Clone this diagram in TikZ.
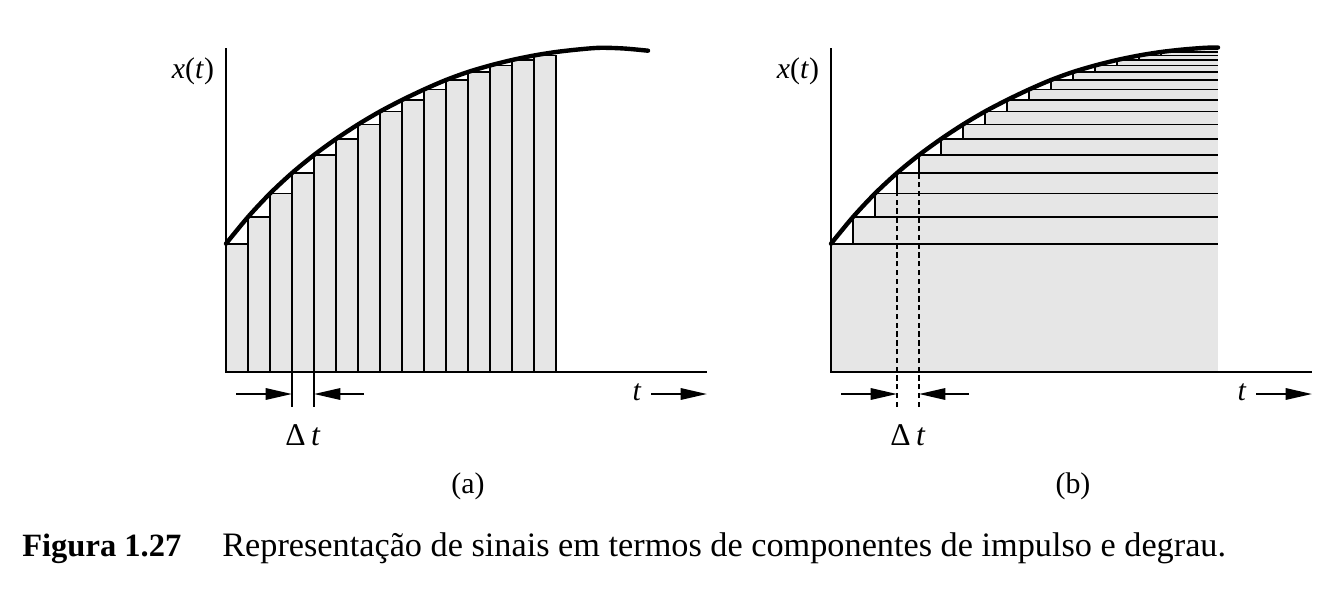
\documentclass[tikz,border=0pt]{standalone}
\usepackage{fontspec}
\setmainfont{Liberation Serif}
\usetikzlibrary{arrows.meta}
\definecolor{barfill}{RGB}{230,230,230}

% sample levels x(k*dt), in picture rows
\def\levels{243.7,217,193.5,173,155,139,124.5,111.5,100,89.5,80,72,65.5,60,55.5,52,49.5,47.8}

\begin{document}
\begin{tikzpicture}[x=0.02cm,y=-0.02cm,
  axis/.style={line width=1.1pt},
  bar/.style={fill=barfill,draw=black,line width=1.1pt},
  strip/.style={line width=1.1pt},
  curve/.style={line width=2.5pt,line cap=round},
  guide/.style={line width=1.1pt,dash pattern=on 3pt off 2pt},
  pointer/.style={line width=1.1pt,-{Triangle[length=15pt,width=6.5pt]}},
  lbl/.style={font=\fontsize{17}{20}\selectfont,inner sep=0pt}]
\useasboundingbox (0,0) rectangle (1338,592);

% (a) impulse components
\begin{scope}[shift={(226,0)}]
\foreach \y [count=\k from 0] in \levels {
  \ifnum\k<15 \draw[bar] ({22*\k},372) rectangle ({22*(\k+1)},\y); \fi
}
\coordinate (a-o) at (0,372);
\coordinate (a-top) at (0,48);
\coordinate (a-end) at (481,372);
\draw[axis] (a-top) -- (a-o) -- (a-end);
\draw[curve] plot[smooth] coordinates {(0,243.7) (22,217) (44,193.5) (66,173) (88,155)
  (110,139) (132,124.5) (154,111.5) (176,100) (198,89.5) (220,80) (242,72) (264,65.5)
  (286,60) (308,55.5) (330,52) (352,49.5) (374,47.8) (398,48.5) (422,50.7)};
\coordinate (a-d1) at (66,407);
\coordinate (a-d2) at (88,407);
\draw[axis] (66,372) -- (a-d1);
\draw[axis] (88,372) -- (a-d2);
\coordinate (a-l) at (10,394);
\coordinate (a-r) at (138,394);
\draw[pointer] (a-l) -- (a-d1 |- a-l);
\draw[pointer] (a-r) -- (a-d2 |- a-r);
\node[lbl] (a-x) at (-33,71) {\textit{x}(\textit{t})};
\node[lbl] (a-t) at (411,392) {\textit{t}};
\coordinate (a-tend) at (481,394);
\draw[pointer] ([xshift=5.5pt]a-t.east |- a-tend) -- (a-tend);
\node[lbl,font=\fontsize{18}{20}\selectfont] (a-dt) at (77,435) {Δ\,\textit{t}};
\node[lbl] (a-cap) at (242,486) {(a)};
\end{scope}

% (b) step components
\begin{scope}[shift={(831,0)}]
\foreach \y [count=\k from 0, remember=\y as \yp (initially 372)] in \levels {
  \fill[barfill] ({22*\k},\yp) rectangle (387,\y);
}
\foreach \y [count=\k from 0, remember=\y as \yp (initially 372)] in \levels {
  \draw[strip] ({22*\k},\y) -- (387,\y);
  \ifnum\k>0 \draw[strip] ({22*\k},\yp) -- ({22*\k},\y); \fi
}
\coordinate (b-o) at (0,372);
\coordinate (b-top) at (0,48);
\coordinate (b-end) at (481,372);
\draw[axis] (b-top) -- (b-o) -- (b-end);
\draw[curve] plot[smooth] coordinates {(0,243.7) (22,217) (44,193.5) (66,173) (88,155)
  (110,139) (132,124.5) (154,111.5) (176,100) (198,89.5) (220,80) (242,72) (264,65.5)
  (286,60) (308,55.5) (330,52) (352,49.5) (374,47.8) (387,47.5)};
\coordinate (b-d1) at (66,407);
\coordinate (b-d2) at (88,407);
\draw[guide] (b-d1) -- (66,193.5);
\draw[guide] (b-d2) -- (88,173);
\coordinate (b-l) at (10,394);
\coordinate (b-r) at (138,394);
\draw[pointer] (b-l) -- (b-d1 |- b-l);
\draw[pointer] (b-r) -- (b-d2 |- b-r);
\node[lbl] (b-x) at (-33,71) {\textit{x}(\textit{t})};
\node[lbl] (b-t) at (411,392) {\textit{t}};
\coordinate (b-tend) at (481,394);
\draw[pointer] ([xshift=5.5pt]b-t.east |- b-tend) -- (b-tend);
\node[lbl,font=\fontsize{18}{20}\selectfont] (b-dt) at (77,435) {Δ\,\textit{t}};
\node[lbl] (b-cap) at (242,486) {(b)};
\end{scope}

% caption
\node[anchor=base west,inner sep=0pt,font=\fontsize{18.5}{22}\selectfont\bfseries] (fig) at (22,556) {Figura 1.27};
\node[anchor=base west,inner sep=0pt,font=\fontsize{19.5}{22}\selectfont] (figtext) at (222,556) {Representação de sinais em termos de componentes de impulso e degrau.};
\end{tikzpicture}
\end{document}
